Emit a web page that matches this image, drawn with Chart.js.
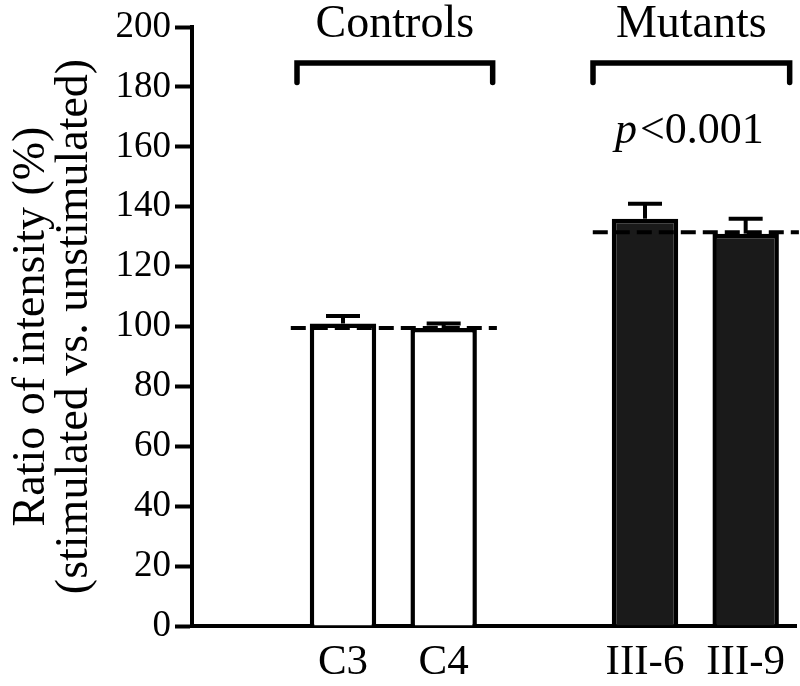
<!DOCTYPE html>
<html><head><meta charset="utf-8">
<script src="https://cdn.jsdelivr.net/npm/chart.js@4.4.1/dist/chart.umd.min.js"></script>
<style>html,body{margin:0;padding:0;background:#fff;}#wrap{width:800px;height:686px;}</style>
</head><body><div id="wrap"><canvas id="c" width="800" height="686"></canvas></div>
<script>
// ---- data ----
const categories = ['', 'C3', 'C4', '', 'III-6', 'III-9'];
const ratioValues = [null, 101, 99.5, null, 136, 131];
const errorValues = [null, 2.5, 1.5, null, 5, 5];
const groupNames = ['Controls', 'Mutants'];
const groupMembers = [[1, 2], [4, 5]];
const groupMeans = [99.5, 131.5];
const yTicks = [0, 20, 40, 60, 80, 100, 120, 140, 160, 180, 200];
const pLabel = ['p', '<0.001'];
const yTitle = ['Ratio of intensity (%)', '(stimulated vs. unstimulated)'];

const SERIF = '"Liberation Serif", "Times New Roman", serif';
const fillColors = categories.map((c, i) => (i >= 4 ? '#1a1a1a' : '#ffffff'));

const annotations = {
  id: 'annotations',
  afterDatasetsDraw(chart) {
    const ctx = chart.ctx;
    const xs = chart.scales.x, ys = chart.scales.y;
    const meta = chart.getDatasetMeta(0);
    ctx.save();
    ctx.strokeStyle = '#000';
    ctx.fillStyle = '#000';
    // dashed mean lines
    groupMembers.forEach((g, gi) => {
      const first = meta.data[g[0]], last = meta.data[g[g.length - 1]];
      const x0 = first.x - first.width / 2 - 19;
      const x1 = last.x + last.width / 2 + 20;
      const y = ys.getPixelForValue(groupMeans[gi]);
      ctx.lineWidth = 4;
      ctx.setLineDash([15, 7]);
      ctx.beginPath(); ctx.moveTo(x0, y); ctx.lineTo(x1, y); ctx.stroke();
    });
    ctx.setLineDash([]);
    // error bars (upper)
    ratioValues.forEach((v, i) => {
      if (v == null) return;
      const bar = meta.data[i];
      const yTop = ys.getPixelForValue(v);
      const yErr = ys.getPixelForValue(v + errorValues[i]);
      ctx.lineWidth = 4;
      ctx.beginPath(); ctx.moveTo(bar.x, yTop); ctx.lineTo(bar.x, yErr); ctx.stroke();
      ctx.beginPath(); ctx.moveTo(bar.x - 17, yErr); ctx.lineTo(bar.x + 17, yErr); ctx.stroke();
    });
    // brackets and group labels
    groupMembers.forEach((g, gi) => {
      const xa = xs.getPixelForValue(g[0]) - (gi === 0 ? 46 : 52);
      const xb = xs.getPixelForValue(g[g.length - 1]) + (gi === 0 ? 49 : 44);
      const yt = ys.getPixelForValue(188);
      const yb = ys.getPixelForValue(181.5);
      ctx.lineWidth = 5.5;
      ctx.lineJoin = 'miter';
      ctx.lineCap = 'round';
      ctx.beginPath(); ctx.moveTo(xa, yb); ctx.lineTo(xa, yt); ctx.lineTo(xb, yt); ctx.lineTo(xb, yb); ctx.stroke();
      ctx.lineCap = 'butt';
      ctx.font = '46px ' + SERIF;
      ctx.textAlign = 'center';
      ctx.textBaseline = 'alphabetic';
      ctx.fillText(groupNames[gi], (xa + xb) / 2, 37);
    });
    // p-value label over mutants
    {
      const g = groupMembers[1];
      const cx = (xs.getPixelForValue(g[0]) + xs.getPixelForValue(g[1])) / 2 - 6;
      ctx.textAlign = 'left';
      ctx.textBaseline = 'alphabetic';
      ctx.font = 'italic 44px ' + SERIF;
      const w1 = ctx.measureText(pLabel[0]).width + 3;
      ctx.font = '44px ' + SERIF;
      const w2 = ctx.measureText(pLabel[1]).width;
      const start = cx - (w1 + w2) / 2;
      ctx.font = 'italic 44px ' + SERIF;
      ctx.fillText(pLabel[0], start, 143);
      ctx.font = '44px ' + SERIF;
      ctx.fillText(pLabel[1], start + w1, 143);
    }
    ctx.restore();
  }
};

new Chart(document.getElementById('c'), {
  type: 'bar',
  data: {
    labels: categories,
    datasets: [{
      data: ratioValues,
      backgroundColor: fillColors,
      borderColor: '#000',
      borderWidth: 4.5,
      borderSkipped: 'start',
      categoryPercentage: 1,
      barPercentage: 0.66
    }]
  },
  options: {
    responsive: false,
    devicePixelRatio: 1,
    animation: false,
    events: [],
    layout: { padding: { top: 27, right: 4, left: 0, bottom: 0 } },
    plugins: { legend: { display: false }, tooltip: { enabled: false } },
    scales: {
      x: {
        type: 'category',
        grid: { display: true, drawOnChartArea: false, drawTicks: false },
        border: { display: true, color: '#000', width: 4 },
        ticks: { color: '#000', font: { family: SERIF, size: 43 }, padding: 11, maxRotation: 0, autoSkip: false },
        afterFit(scale) { scale.height = 60; }
      },
      y: {
        min: 0, max: 200,
        afterBuildTicks(scale) { scale.ticks = yTicks.map(v => ({ value: v })); },
        grid: { display: true, drawOnChartArea: false, drawTicks: true, tickLength: 17, tickWidth: 4, tickColor: '#000' },
        border: { display: true, color: '#000', width: 4 },
        ticks: { color: '#000', font: { family: SERIF, size: 37 }, padding: 4 },
        title: {
          display: true,
          text: yTitle,
          color: '#000',
          font: { family: SERIF, size: 46, lineHeight: 0.94 },
          padding: { top: 10, bottom: 0 }
        },
        afterFit(scale) { scale.width = 192; }
      }
    }
  },
  plugins: [annotations]
});
</script>
</body></html>
